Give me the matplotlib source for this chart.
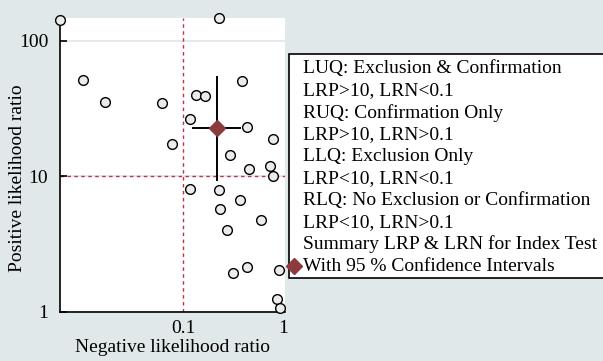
import matplotlib
matplotlib.use("Agg")
import matplotlib.pyplot as plt
from matplotlib.patches import Rectangle
from matplotlib.lines import Line2D

plt.rcParams['font.family'] = ['Liberation Serif', 'DejaVu Serif']

# Study-level likelihood ratios
lrn = [0.00585, 0.2275, 0.00986, 0.0165, 0.0617, 0.133, 0.1637, 0.389, 0.1175,
       0.4365, 0.0766, 0.794, 0.293, 0.454, 0.736, 0.794, 0.1167, 0.226, 0.366,
       0.2344, 0.598, 0.2735, 0.4335, 0.316, 0.906, 0.859, 0.927]
lrp = [141.5, 146.0, 51.3, 35.5, 35.0, 39.9, 38.9, 50.7, 26.4,
       23.1, 17.3, 18.9, 14.4, 11.4, 11.9, 10.0, 8.04, 7.95, 6.71,
       5.70, 4.73, 3.99, 2.13, 1.93, 2.04, 1.256, 1.078]

# Summary estimate with 95% CI
sum_lrn, sum_lrn_lo, sum_lrn_hi = 0.215, 0.125, 0.369
sum_lrp, sum_lrp_lo, sum_lrp_hi = 22.8, 9.4, 54.0

ref_lrn = 0.1
ref_lrp = 10

xticks = [0.1, 1]
xticklabels = ["0.1", "1"]
yticks = [1, 10, 100]
yticklabels = ["1", "10", "100"]

legend_lines = [
    "LUQ: Exclusion & Confirmation",
    "LRP>10, LRN<0.1",
    "RUQ: Confirmation Only",
    "LRP>10, LRN>0.1",
    "LLQ: Exclusion Only",
    "LRP<10, LRN<0.1",
    "RLQ: No Exclusion or Confirmation",
    "LRP<10, LRN>0.1",
    "Summary LRP & LRN for Index Test",
    "With 95 % Confidence Intervals",
]

W, H = 603, 361
bg = "#e0e8e9"
red = "#c03048"
diamond_c = "#8b3a3e"

fig = plt.figure(figsize=(W / 100, H / 100), dpi=100, facecolor=bg)
ax = fig.add_axes([60 / W, (H - 312) / H, 225 / W, (312 - 18) / H])
ax.set_facecolor("white")
ax.set_xscale("log")
ax.set_yscale("log")
ax.set_xlim(0.00585, 1.04)
ax.set_ylim(1, 147)

for s in ["top", "right"]:
    ax.spines[s].set_visible(False)
for s in ["left", "bottom"]:
    ax.spines[s].set_linewidth(1.2)

ax.set_xticks(xticks)
ax.set_xticklabels(xticklabels)
ax.set_yticks(yticks)
ax.set_yticklabels(yticklabels)
ax.minorticks_off()
ax.tick_params(axis="both", direction="in", length=5, width=1.2, labelsize=14)
ax.tick_params(axis="y", pad=8.5)
ax.tick_params(axis="x", length=0, pad=6)
for y in yticks:
    ax.axhline(y, color="#dde6e7", lw=1.2, zorder=0)

ax.axvline(ref_lrn, color=red, lw=1.0, ls=(0, (2.5, 2.5)), zorder=1)
ax.axhline(ref_lrp, color=red, lw=1.0, ls=(0, (2.5, 2.5)), zorder=1)

ax.plot(lrn, lrp, ls="none", marker="o", ms=7, mfc="#ebebeb", mec="black",
        mew=1.0, zorder=3, clip_on=False)

ax.plot([sum_lrn, sum_lrn], [sum_lrp_lo, sum_lrp_hi], color="black", lw=1.4, zorder=4)
ax.plot([sum_lrn_lo, sum_lrn_hi], [sum_lrp, sum_lrp], color="black", lw=1.4, zorder=4)
ax.plot([sum_lrn], [sum_lrp], ls="none", marker="D", ms=8, mfc=diamond_c,
        mec=diamond_c, zorder=5)

ax.set_xlabel("Negative likelihood ratio", fontsize=14)
ax.set_ylabel("Positive likelihood ratio", fontsize=14)
ax.xaxis.label.set_va("center")
ax.yaxis.label.set_va("center")
ax.xaxis.set_label_coords(0.5, (312 - 347) / 294)
ax.yaxis.set_label_coords((18 - 60) / 225, (312 - 178) / 294)

# Legend box
lx0, ly_top, ly_bot = 289, 54, 278
rect = Rectangle((lx0 / W, 1 - ly_bot / H), (W + 10 - lx0) / W, (ly_bot - ly_top) / H,
                 transform=fig.transFigure, facecolor="white", edgecolor="black",
                 lw=1.2, zorder=10)
fig.patches.append(rect)
y0 = 69
dy = 21.9
for i, t in enumerate(legend_lines):
    fig.text(303 / W, 1 - (y0 + i * dy) / H, t, fontsize=14, va="center", ha="left",
             zorder=11)
fig.lines.append(Line2D([294 / W], [1 - 266 / H], transform=fig.transFigure,
                        marker="D", ms=8, mfc=diamond_c, mec=diamond_c, ls="none",
                        zorder=12))

fig.savefig("out.png", dpi=100, facecolor=bg)
